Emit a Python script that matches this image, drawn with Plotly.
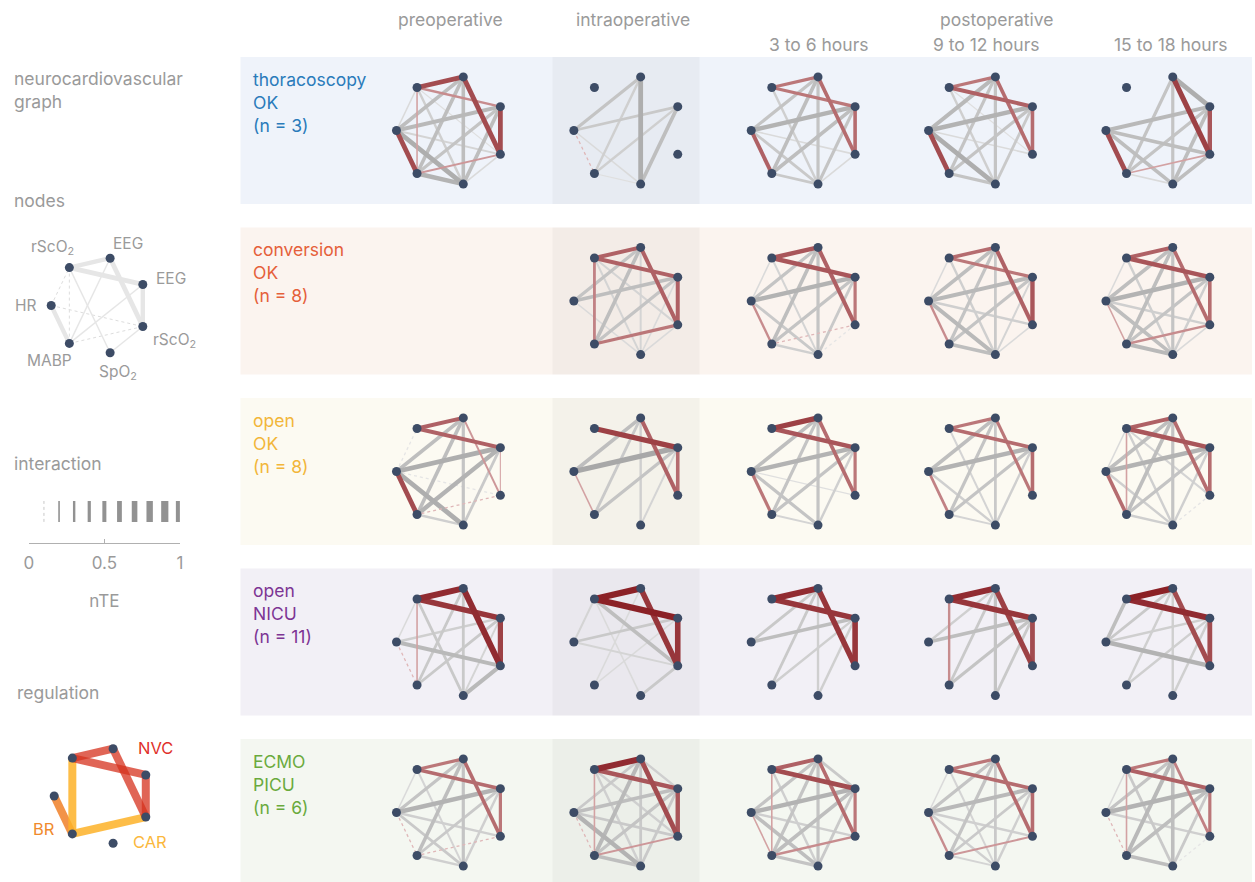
import math
import plotly.graph_objects as go

W, H = 1255, 882
FONT = "Inter, Roboto, sans-serif"
GREY_TXT = "#9a9a9a"

# ---- graph definition -------------------------------------------------------
# node order around the heptagon, starting at the left and going clockwise
NODE_LABELS = ["HR", "rScO<sub>2</sub>", "EEG", "EEG", "rScO<sub>2</sub>", "SpO<sub>2</sub>", "MABP"]
EDGES = [(0, 1), (0, 2), (0, 3), (0, 4), (0, 5), (0, 6),
         (1, 2), (1, 3), (1, 4), (1, 5), (1, 6),
         (2, 3), (2, 4), (2, 5), (2, 6),
         (3, 4), (3, 5), (3, 6),
         (4, 5), (4, 6),
         (5, 6)]
REGULATION = {(1, 2): "NVC", (1, 3): "NVC", (2, 4): "NVC", (3, 4): "NVC",
              (1, 6): "CAR", (4, 6): "CAR", (0, 6): "BR"}

TIMEPOINTS = ["preoperative", "intraoperative", "3 to 6 hours", "9 to 12 hours", "15 to 18 hours"]

# ---- nTE per edge (EDGES order), one list per time point; None = no recording
thoracoscopy_ok = [
    [.2, .45, .5, .25, .6, .6, .6, .3, .15, .3, .2, 0, .6, .45, .45, .6, .45, .4, .2, .25, .55],
    [0, .4, .35, 0, .2, .1, 0, 0, 0, 0, 0, 0, 0, .6, .3, 0, .45, .3, 0, 0, .15],
    [0, .4, .55, .2, .35, .5, .4, .4, 0, .3, 0, 0, .45, .4, .45, .45, .4, .45, .2, 0, .35],
    [0, .5, .55, .2, .6, .6, .4, .5, .15, .3, 0, 0, .45, .4, .4, .45, .35, .4, 0, 0, .4],
    [0, 0, .5, .45, .45, .6, 0, 0, 0, 0, 0, .6, .65, .4, .4, .55, .45, .4, .45, .2, .2],
]
conversion_ok = [
    None,
    [0, .4, .45, 0, .2, 0, .5, .5, .25, .25, .35, 0, .5, .25, .45, .5, .2, .4, .2, .4, 0],
    [.2, .4, .55, 0, .35, .3, .55, .55, 0, .25, 0, 0, .5, .4, .45, .4, .35, .4, .1, .1, .3],
    [.2, .45, .5, .3, .5, .3, .45, .4, 0, .3, 0, 0, .5, .35, .4, .55, .25, .4, .2, 0, .45],
    [.2, .45, .55, .3, .45, .2, .5, .55, 0, .3, 0, 0, .45, .4, .45, .45, .3, .4, .2, .3, .5],
]
open_ok = [
    [.1, .45, .6, .1, .6, .6, .5, .5, 0, 0, 0, 0, .25, .4, .45, .15, .35, .55, 0, .1, .3],
    [0, .45, .65, 0, 0, .2, 0, .65, 0, 0, 0, 0, .5, .3, .35, .45, .25, .4, 0, 0, 0],
    [0, .45, .55, .15, .4, .4, .65, .55, 0, 0, 0, 0, .45, .4, .4, .4, .3, .4, 0, 0, .25],
    [0, .45, .55, 0, .3, .35, .4, .45, 0, .25, 0, 0, .4, .35, .4, .45, .3, .4, 0, 0, .25],
    [.2, .45, .55, 0, .3, .45, .5, .55, .25, .3, .2, 0, .45, .4, .45, .45, .3, .4, .1, 0, .3],
]
open_nicu = [
    [.2, 0, .3, .5, 0, .1, .75, .7, 0, .35, .2, 0, .75, .35, .35, .65, .25, .35, .5, 0, 0],
    [.25, 0, .35, .25, 0, 0, .8, .8, .45, .2, 0, 0, .7, 0, .2, .7, 0, .2, .35, 0, 0],
    [0, .35, .45, 0, 0, 0, .75, .7, 0, 0, 0, 0, .7, .3, .35, .7, .3, .3, 0, 0, 0],
    [0, .3, .45, 0, 0, 0, .75, .7, 0, 0, .3, 0, .65, .4, .35, .6, .35, .4, 0, 0, 0],
    [.45, .35, .3, .55, 0, 0, .8, .75, 0, 0, 0, 0, .6, .3, .3, .6, .3, .3, 0, 0, 0],
]
ecmo_picu = [
    [.2, .4, .55, .3, .35, .1, .4, .45, 0, .25, 0, 0, .45, .4, .45, .4, .3, .35, 0, .1, .3],
    [0, .35, .45, .35, .55, .1, .75, .55, .3, .3, .2, .3, .6, .35, .5, .55, .35, .4, 0, .25, .45],
    [0, .4, .55, .3, .45, .2, .5, .6, 0, .3, .2, .35, .45, .4, .4, .4, .35, .45, 0, .3, .4],
    [.2, .4, .5, .3, .3, .3, .4, .45, 0, .25, 0, 0, .45, .35, .4, .45, .3, .35, 0, .25, .25],
    [.2, .4, .55, .3, 0, .1, .4, .5, 0, .35, .2, 0, .35, .45, .5, .4, .35, .45, .1, 0, .45],
]

GROUPS = [
    ("thoracoscopy<br>OK<br>(n = 3)", "#2a7bba", thoracoscopy_ok, "#eff3fa"),
    ("conversion<br>OK<br>(n = 8)", "#e5603a", conversion_ok, "#fbf4ef"),
    ("open<br>OK<br>(n = 8)", "#f2b63a", open_ok, "#fcfaf2"),
    ("open<br>NICU<br>(n = 11)", "#7d3594", open_nicu, "#f2f0f6"),
    ("ECMO<br>PICU<br>(n = 6)", "#6aaa3d", ecmo_picu, "#f4f7f1"),
]

# legend graphs
legend_nodes_nte = {(1, 2): .55, (1, 3): .6, (2, 4): .6, (3, 4): .55, (0, 6): .55,
                    (2, 6): .18, (3, 6): .18, (1, 5): .18, (4, 5): .18,
                    (0, 1): .1, (1, 6): .1, (0, 4): .1, (4, 6): .1}
nte_scale = [0.1, 0.2, 0.3, 0.4, 0.5, 0.6, 0.7, 0.8, 0.9, 1.0]
REG_COLORS = {"NVC": "rgba(214,50,30,0.75)", "CAR": "rgba(253,178,40,0.85)", "BR": "rgba(240,128,40,0.85)"}
REG_LABEL_COLORS = {"NVC": "#e0302a", "CAR": "#fbb83c", "BR": "#f08a2c"}

# ---- layout constants -------------------------------------------------------
COL_X = [449 + 178.5 * i for i in range(5)]
ROW_Y = [130.5 + 170.5 * i for i in range(5)]
R = 55
BAND_X0 = 237
BAND_HALF = 73.5
NODE_COLOR = "#3d4c66"


def node_xy(cx, cy, r):
    pts = []
    for k in range(7):
        a = math.radians(180 - k * 360 / 7)
        pts.append((cx + r * math.cos(a), cy - r * math.sin(a)))
    return pts


def edge_style(v, regulatory):
    if regulatory:
        t = min(v, 0.85)
        col = "rgb(%d,%d,%d)" % (235 - 119 * t, 205 - 215 * t, 205 - 208 * t)
    else:
        c = int(240 - 110 * v)
        col = "rgb(%d,%d,%d)" % (c, c, c)
    if v <= 0.1:
        return col, 1.3, "dot"
    return col, 8 * v, "solid"


fig = go.Figure()
shapes = []
annotations = []

# background bands
for gi, (label, color, data, bg) in enumerate(GROUPS):
    cy = ROW_Y[gi]
    shapes.append(dict(type="rect", xref="x", yref="y", x0=BAND_X0, x1=W,
                       y0=cy - BAND_HALF, y1=cy + BAND_HALF,
                       fillcolor=bg, line_width=0, layer="below"))
    shapes.append(dict(type="rect", xref="x", yref="y", x0=551, x1=699,
                       y0=cy - BAND_HALF, y1=cy + BAND_HALF,
                       fillcolor="rgba(60,60,70,0.045)", line_width=0, layer="below"))
    annotations.append(dict(x=248, y=cy - 64, xref="x", yref="y", text=label,
                            showarrow=False, xanchor="left", yanchor="top", align="left",
                            font=dict(family=FONT, size=17.5, color=color)))

# network panels
for gi, (label, color, data, bg) in enumerate(GROUPS):
    for ti, values in enumerate(data):
        if values is None:
            continue
        pts = node_xy(COL_X[ti], ROW_Y[gi], R)
        order = sorted(range(len(EDGES)),
                       key=lambda i: (EDGES[i] in REGULATION, values[i]))
        for i in order:
            v = values[i]
            if v <= 0:
                continue
            a, b = EDGES[i]
            col, w, dash = edge_style(v, EDGES[i] in REGULATION)
            fig.add_trace(go.Scatter(x=[pts[a][0], pts[b][0]], y=[pts[a][1], pts[b][1]],
                                     mode="lines", line=dict(color=col, width=w, dash=dash),
                                     hoverinfo="skip", showlegend=False))
        fig.add_trace(go.Scatter(x=[p[0] for p in pts], y=[p[1] for p in pts], mode="markers",
                                 marker=dict(color=NODE_COLOR, size=9), hoverinfo="skip",
                                 showlegend=False))

# ---- nodes legend -----------------------------------------------------------
lp = node_xy(95, 305.5, 48.5)
for (a, b), v in sorted(legend_nodes_nte.items(), key=lambda kv: kv[1]):
    fig.add_trace(go.Scatter(x=[lp[a][0], lp[b][0]], y=[lp[a][1], lp[b][1]], mode="lines",
                             line=dict(color="#e6e6e6" if v > 0.1 else "#dddddd",
                                       width=8 * v if v > 0.1 else 1,
                                       dash="solid" if v > 0.1 else "dot"),
                             hoverinfo="skip", showlegend=False))
fig.add_trace(go.Scatter(x=[p[0] for p in lp], y=[p[1] for p in lp], mode="markers",
                         marker=dict(color=NODE_COLOR, size=9), hoverinfo="skip", showlegend=False))
label_offsets = [(-25, 0), (-17, -20), (18, -15), (28, -6), (32, 14), (8, 20), (-20, 17)]
for k, (dx, dy) in enumerate(label_offsets):
    annotations.append(dict(x=lp[k][0] + dx, y=lp[k][1] + dy, xref="x", yref="y",
                            text=NODE_LABELS[k], showarrow=False,
                            font=dict(family=FONT, size=15.5, color=GREY_TXT)))

# ---- regulation legend ------------------------------------------------------
rp = node_xy(98, 796, 48.5)
for kind in ["BR", "CAR", "NVC"]:
    for (a, b), k in REGULATION.items():
        if k != kind:
            continue
        fig.add_trace(go.Scatter(x=[rp[a][0], rp[b][0]], y=[rp[a][1], rp[b][1]], mode="lines",
                                 line=dict(color=REG_COLORS[kind], width=8),
                                 hoverinfo="skip", showlegend=False))
fig.add_trace(go.Scatter(x=[p[0] for p in rp], y=[p[1] for p in rp], mode="markers",
                         marker=dict(color=NODE_COLOR, size=9), hoverinfo="skip", showlegend=False))
for kind, (x, y) in {"NVC": (151, 748), "BR": (39, 829), "CAR": (146, 842)}.items():
    annotations.append(dict(x=x, y=y, xref="x", yref="y", text=kind, showarrow=False,
                            font=dict(family=FONT, size=16.5, color=REG_LABEL_COLORS[kind])))

# ---- interaction (nTE) legend on its own axis --------------------------------
for v in nte_scale:
    fig.add_trace(go.Scatter(x=[v, v], y=[0.44, 0.875], mode="lines", xaxis="x2", yaxis="y2",
                             line=dict(color="#c8c8c8" if v <= 0.1 else "#929292",
                                       width=1 if v <= 0.1 else 8 * v,
                                       dash="dot" if v <= 0.1 else "solid"),
                             hoverinfo="skip", showlegend=False))

# ---- text -------------------------------------------------------------------
header_pos = [(448, 19), (632, 19), (819, 44), (987, 44), (1173, 44)]
for t, (x, y) in zip(TIMEPOINTS, header_pos):
    annotations.append(dict(x=x, y=y, xref="x", yref="y", text=t, showarrow=False,
                            font=dict(family=FONT, size=17.5, color=GREY_TXT)))
annotations.append(dict(x=998, y=19, xref="x", yref="y", text="postoperative", showarrow=False,
                        font=dict(family=FONT, size=17.5, color=GREY_TXT)))
for text, x, y in [("neurocardiovascular<br>graph", 7, 66), ("nodes", 7, 188),
                   ("interaction", 7, 451), ("regulation", 10, 680)]:
    annotations.append(dict(x=x, y=y, xref="x", yref="y", text=text, showarrow=False,
                            xanchor="left", yanchor="top", align="left",
                            font=dict(family=FONT, size=17.5, color=GREY_TXT)))

fig.update_layout(
    width=W, height=H, margin=dict(l=0, r=0, t=0, b=0),
    paper_bgcolor="white", plot_bgcolor="rgba(0,0,0,0)",
    xaxis=dict(range=[0, W], visible=False, domain=[0, 1], fixedrange=True),
    yaxis=dict(range=[H, 0], visible=False, domain=[0, 1], fixedrange=True),
    xaxis2=dict(domain=[24 / W, 176 / W], range=[0, 1], anchor="y2",
                showline=True, linecolor="#b0b0b0", linewidth=1, showgrid=False, zeroline=False,
                ticks="inside", ticklen=4, tickcolor="#b0b0b0", tickvals=[0, 0.5, 1],
                ticktext=["0", "0.5", "1"], ticklabelstandoff=5,
                tickfont=dict(family=FONT, size=17, color=GREY_TXT),
                title=dict(text="nTE", font=dict(family=FONT, size=17, color=GREY_TXT), standoff=22)),
    yaxis2=dict(domain=[1 - 543 / H, 1 - 495 / H], range=[0, 1], anchor="x2", visible=False),
    shapes=shapes, annotations=annotations, showlegend=False,
)
fig.write_html("out.html")
